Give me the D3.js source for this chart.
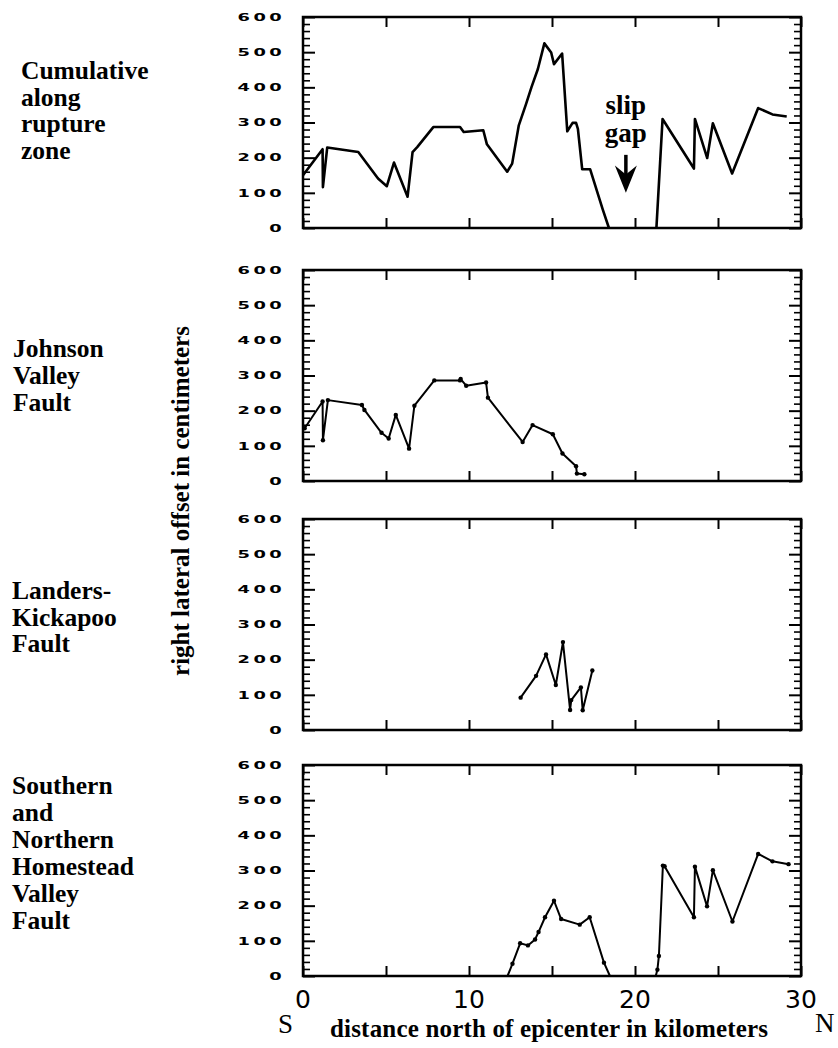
<html>
<script src='https://d3js.org/d3.v7.min.js'></script>
<style>
    body { margin: 0; background: #fff; }
    .serif { font-family: 'Liberation Serif', 'Times New Roman', serif; font-weight: bold; fill: #000; }
    .frame { fill: none; stroke: #000; stroke-width: 2.5; }
    .tick line { stroke: #000; stroke-width: 2; }
    .minor .tick line { stroke-width: 1.6; }
    .offset { fill: none; stroke: #000; stroke-width: 2; stroke-linejoin: round; }
</style>
<body>
<svg width=838 height=1048 id="chart"></svg>
<script>
// distance north of epicenter (km) / right lateral offset (cm)
// null = no slip (the slip gap)
var cumulativeKm = [0, 1.18, 1.2, 1.46, 3.33, 4.52, 5.05, 5.48, 6.3, 6.6, 6.88, 7.85, 9.46, 9.68, 10.86, 11.08, 12.3, 12.6, 13.0, 13.44, 13.76, 14.15, 14.54, 14.95, 15.12, 15.61, 15.92, 16.24, 16.45, 16.56, 16.82, 17.3, 18.06, 18.43, 19.8, 21.29, 21.66, 23.55, 23.61, 24.35, 24.69, 25.85, 27.42, 28.28, 29.14];
var cumulativeCm = [150, 224, 116, 229, 216, 141, 119, 186, 89, 216, 230, 287, 287, 273, 278, 238, 160, 183, 292, 353, 400, 452, 525, 499, 466, 496, 275, 299, 299, 282, 167, 167, 52, 0, null, 0, 310, 169, 310, 199, 298, 155, 341, 323, 317];

var johnsonKm = [0.1, 1.18, 1.2, 1.5, 3.55, 3.7, 4.73, 5.16, 5.59, 6.39, 6.71, 7.91, 9.46, 9.5, 9.83, 11.03, 11.14, 13.23, 13.83, 15.05, 15.63, 16.45, 16.5, 16.95];
var johnsonCm = [150, 226, 116, 230, 216, 202, 137, 121, 188, 92, 214, 286, 286, 290, 271, 280, 237, 111, 159, 133, 78, 42, 21, 19];

var landersKm = [13.11, 14.04, 14.64, 15.23, 15.66, 16.09, 16.16, 16.74, 16.85, 17.43];
var landersCm = [92, 154, 215, 128, 250, 57, 85, 121, 56, 169];

var homesteadKm = [12.32, 12.62, 13.08, 13.55, 13.98, 14.19, 14.58, 15.12, 15.55, 16.67, 17.27, 18.13, 18.49, 19.8, 21.25, 21.35, 21.44, 21.68, 21.78, 23.55, 23.61, 24.34, 24.69, 25.87, 27.42, 28.28, 29.25];
var homesteadCm = [0, 35, 93, 87, 104, 125, 167, 214, 162, 146, 167, 38, 0, null, 0, 18, 57, 314, 312, 167, 311, 198, 301, 155, 347, 326, 318];

var panelNames = [
    ["Cumulative", "along", "rupture", "zone"],
    ["Johnson", "Valley", "Fault"],
    ["Landers-", "Kickapoo", "Fault"],
    ["Southern", "and", "Northern", "Homestead", "Valley", "Fault"]
];
var offsetTicks = [0, 100, 200, 300, 400, 500, 600];
var minorTicks = d3.range(20, 600, 20).filter(function (d) { return d % 100 != 0; });
var distanceTicks = [0, 5, 10, 15, 20, 25, 30];
var distanceLabels = [0, 10, 20, 30];

var svg = d3.select("svg");
var left = 303, right = 801, panelH = 211;
var panelTops = [17, 270, 519, 765];
var titlePos = [[21, 79, 26.5], [13, 357, 27], [12, 599, 26.5], [12, 794, 27]];

var x = d3.scaleLinear().domain([0, 30]).range([left, right]);

var panels = [
    { km: cumulativeKm, cm: cumulativeCm, dots: false, width: 2.6 },
    { km: johnsonKm, cm: johnsonCm, dots: true, width: 2 },
    { km: landersKm, cm: landersCm, dots: true, width: 2 },
    { km: homesteadKm, cm: homesteadCm, dots: true, width: 2 }
];

panels.forEach(function (p, i) {
    var top = panelTops[i], bottom = top + panelH;
    var y = d3.scaleLinear().domain([0, 600]).range([bottom, top]);
    var g = svg.append("g");
    var data = d3.zip(p.km, p.cm);

    // inward ticks on all four sides
    g.append("g").attr("transform", "translate(" + left + ",0)")
        .call(d3.axisLeft(y).tickValues(offsetTicks).tickSize(-12).tickFormat(""));
    g.append("g").attr("class", "minor").attr("transform", "translate(" + left + ",0)")
        .call(d3.axisLeft(y).tickValues(minorTicks).tickSize(-7).tickFormat(""));
    g.append("g").attr("transform", "translate(" + right + ",0)")
        .call(d3.axisRight(y).tickValues(offsetTicks).tickSize(-12).tickFormat(""));
    g.append("g").attr("class", "minor").attr("transform", "translate(" + right + ",0)")
        .call(d3.axisRight(y).tickValues(minorTicks).tickSize(-7).tickFormat(""));
    g.append("g").attr("transform", "translate(0," + top + ")")
        .call(d3.axisTop(x).tickValues(distanceTicks).tickSize(-10).tickFormat(""));
    g.append("g").attr("transform", "translate(0," + bottom + ")")
        .call(d3.axisBottom(x).tickValues(distanceTicks).tickSize(-10).tickFormat(""));
    g.selectAll(".domain").remove();

    g.append("rect").attr("class", "frame")
        .attr("x", left).attr("y", top)
        .attr("width", right - left).attr("height", panelH);

    // wide bold tick labels
    g.selectAll(".ylab").data(offsetTicks).enter().append("text")
        .attr("transform", function (d) { return "translate(" + (left - 18) + "," + y(d) + ") scale(1.7,1)"; })
        .attr("text-anchor", "end").attr("dy", "0.36em")
        .style("font-family", "'DejaVu Sans', sans-serif").style("font-weight", "bold")
        .style("font-size", "10.5px").style("letter-spacing", "2px")
        .text(function (d) { return d; });

    var line = d3.line()
        .defined(function (d) { return d[1] != null; })
        .x(function (d) { return x(d[0]); })
        .y(function (d) { return y(d[1]); });

    g.append("path").datum(data).attr("class", "offset")
        .style("stroke-width", p.width).attr("d", line);

    if (p.dots) {
        g.selectAll(".dot").data(data.filter(function (d) { return d[1] > 0; }))
            .enter().append("circle")
            .attr("cx", function (d) { return x(d[0]); })
            .attr("cy", function (d) { return y(d[1]); })
            .attr("r", 2.2);
    }

    var t = titlePos[i];
    var title = svg.append("text").attr("class", "serif").style("font-size", "25.5px");
    panelNames[i].forEach(function (w, j) {
        title.append("tspan").attr("x", t[0]).attr("y", t[1] + j * t[2]).text(w);
    });

    if (i == 0) {
        // slip gap annotation
        var ax = x(19.45);
        svg.append("text").attr("class", "serif").style("font-size", "27px")
            .attr("text-anchor", "middle").attr("x", ax).attr("y", y(323)).text("slip");
        svg.append("text").attr("class", "serif").style("font-size", "27px")
            .attr("text-anchor", "middle").attr("x", ax).attr("y", y(245)).text("gap");
        svg.append("line").attr("x1", ax).attr("x2", ax).attr("y1", y(208)).attr("y2", y(150))
            .attr("stroke", "#000").attr("stroke-width", 3.5);
        svg.append("path")
            .attr("d", "M" + (ax - 11) + "," + y(178) + "L" + ax + "," + y(100) +
                       "L" + (ax + 11) + "," + y(178) + "L" + ax + "," + y(152) + "Z")
            .attr("fill", "#000");
    }

    if (i == 3) {
        svg.selectAll(".xlab").data(distanceLabels).enter().append("text")
            .attr("x", function (d) { return x(d); }).attr("y", bottom + 32)
            .attr("text-anchor", "middle")
            .style("font-family", "'DejaVu Sans', sans-serif").style("font-size", "25px")
            .text(function (d) { return d; });
    }
});

// axis titles
svg.append("text").attr("class", "serif").style("font-size", "25px")
    .attr("x", 330).attr("y", 1037).attr("textLength", 438)
    .text("distance north of epicenter in kilometers");
svg.append("text").attr("class", "serif").style("font-size", "27px").style("font-weight", "normal")
    .attr("x", 278).attr("y", 1033).text("S");
svg.append("text").attr("class", "serif").style("font-size", "27px").style("font-weight", "normal")
    .attr("x", 815).attr("y", 1032).text("N");
svg.append("text").attr("class", "serif").style("font-size", "25px")
    .attr("text-anchor", "middle")
    .attr("transform", "translate(189,501) rotate(-90)")
    .text("right lateral offset in centimeters");
</script>
</body>
</html>
